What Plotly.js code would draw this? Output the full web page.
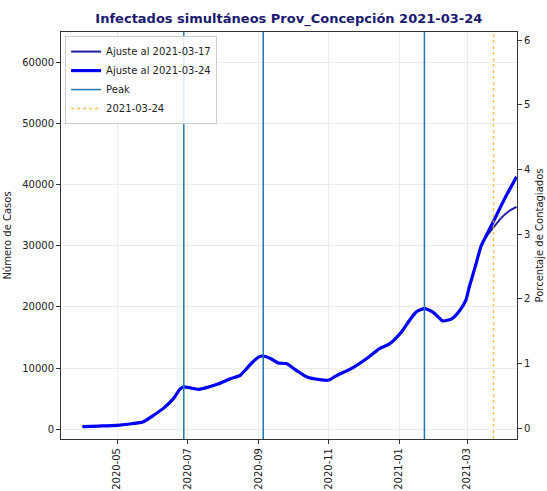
<!DOCTYPE html>
<html>
<head>
<meta charset="utf-8">
<script src="https://cdn.plot.ly/plotly-3.0.1.min.js"></script>
<style>html,body{margin:0;padding:0;background:#fff;}#chart{width:547px;height:491px;}</style>
</head>
<body>
<div id="chart"></div>
<script>
// Fit up to 2021-03-24 (thick line)
const fit24Dates = ['2020-04-01','2020-04-15','2020-05-01','2020-05-12','2020-05-24','2020-06-01','2020-06-10','2020-06-19','2020-06-25','2020-06-28','2020-07-03','2020-07-11','2020-07-27','2020-08-08','2020-08-16','2020-08-21','2020-08-26','2020-09-01','2020-09-05','2020-09-12','2020-09-18','2020-09-25','2020-10-04','2020-10-13','2020-10-24','2020-11-01','2020-11-07','2020-11-22','2020-12-06','2020-12-15','2020-12-24','2021-01-03','2021-01-10','2021-01-16','2021-01-23','2021-01-30','2021-02-04','2021-02-08','2021-02-16','2021-02-23','2021-02-28','2021-03-03','2021-03-09','2021-03-13','2021-03-17','2021-03-24','2021-04-02','2021-04-13'];
const fit24Values = [450,530,650,870,1240,2200,3380,5010,6650,6920,6800,6540,7360,8300,8830,9800,10840,11800,11980,11500,10840,10740,9600,8550,8120,8050,8700,10100,11870,13200,14000,15900,17800,19200,19740,19180,18370,17710,18100,19500,21100,23300,27140,29850,31400,34000,37440,41300];

// Fit up to 2021-03-17 (thin line)
const fit17Dates = ['2020-04-01','2020-04-15','2020-05-01','2020-05-12','2020-05-24','2020-06-01','2020-06-10','2020-06-19','2020-06-25','2020-06-28','2020-07-03','2020-07-11','2020-07-27','2020-08-08','2020-08-16','2020-08-21','2020-08-26','2020-09-01','2020-09-05','2020-09-12','2020-09-18','2020-09-25','2020-10-04','2020-10-13','2020-10-24','2020-11-01','2020-11-07','2020-11-22','2020-12-06','2020-12-15','2020-12-24','2021-01-03','2021-01-10','2021-01-16','2021-01-23','2021-01-30','2021-02-04','2021-02-08','2021-02-16','2021-02-23','2021-02-28','2021-03-03','2021-03-09','2021-03-13','2021-03-17','2021-03-24','2021-03-31','2021-04-06','2021-04-13'];
const fit17Values = [450,530,650,870,1240,2200,3380,5010,6650,6920,6800,6540,7360,8300,8830,9800,10840,11800,11980,11500,10840,10740,9600,8550,8120,8050,8700,10100,11870,13200,14000,15900,17800,19200,19740,19180,18370,17710,18100,19500,21100,23300,27140,29850,31300,33000,34600,35600,36350];

const peakDates = ['2020-06-28','2020-09-05','2021-01-23'];
const cutDate = ['2021-03-24'];

const leftTicks = [0,10000,20000,30000,40000,50000,60000];
const rightTicks = [0,1,2,3,4,5,6];

function vlines(dates){
  const x=[], y=[];
  dates.forEach((d,i)=>{ if(i>0){x.push(null);y.push(null);} x.push(d,d); y.push(0,1); });
  return {x,y};
}
const pk = vlines(peakDates);
const ct = vlines(cutDate);

const font = 'DejaVu Sans, sans-serif';

const traces = [
  {x: fit17Dates, y: fit17Values, type:'scatter', mode:'lines', name:'Ajuste al 2021-03-17',
   line:{color:'#1a1a9e', width:2, shape:'spline', smoothing:0.6}, yaxis:'y'},
  {x: fit24Dates, y: fit24Values, type:'scatter', mode:'lines', name:'Ajuste al 2021-03-24',
   line:{color:'#0000ff', width:3.2, shape:'spline', smoothing:0.6}, yaxis:'y'},
  {x: pk.x, y: pk.y, type:'scatter', mode:'lines', name:'Peak',
   line:{color:'#1f77b4', width:1.5}, yaxis:'y3', connectgaps:false},
  {x: ct.x, y: ct.y, type:'scatter', mode:'lines', name:'2021-03-24',
   line:{color:'rgba(255,165,0,0.7)', width:1.5, dash:'dot'}, yaxis:'y3'},
  {x: [], y: [], type:'scatter', mode:'lines', yaxis:'y2', showlegend:false, hoverinfo:'skip'}
];

const layout = {
  width:547, height:491,
  margin:{l:61, r:30, t:32, b:52, pad:0},
  paper_bgcolor:'#fff', plot_bgcolor:'#fff',
  font:{family:font, size:10, color:'#222'},
  title:{text:'<b>Infectados simultáneos Prov_Concepción 2021-03-24</b>', font:{family:font, size:13, color:'#191970'},
         x:0.528, xanchor:'center', y:0.963, yanchor:'middle'},
  showlegend:true,
  legend:{x:0.009, y:0.99, xanchor:'left', yanchor:'top', bgcolor:'rgba(255,255,255,0.85)',
          bordercolor:'#cccccc', borderwidth:1, font:{family:font, size:10, color:'#222'},
          tracegroupgap:0, itemwidth:30},
  xaxis:{type:'date', range:['2020-03-13 08:00','2021-04-13 10:00'],
         tick0:'2020-01-01', dtick:'M2', tickformat:'%Y-%m', tickangle:-90,
         showgrid:true, gridcolor:'#ececec', gridwidth:1,
         showline:true, linecolor:'#333', linewidth:1, mirror:true,
         ticks:'outside', ticklen:4, tickcolor:'#333', zeroline:false,
         tickfont:{family:font, size:10, color:'#222'}},
  yaxis:{range:[-1586,64950], tickvals:leftTicks, ticktext:leftTicks.map(String),
         showgrid:true, gridcolor:'#ececec', gridwidth:1, zeroline:false,
         showline:true, linecolor:'#333', linewidth:1,
         ticks:'outside', ticklen:4, tickcolor:'#333',
         title:{text:'Número de Casos', font:{family:font, size:10, color:'#222'}, standoff:8},
         tickfont:{family:font, size:10, color:'#222'}},
  yaxis2:{overlaying:'y', side:'right', range:[-0.165,6.125], tickvals:rightTicks, ticktext:rightTicks.map(String),
          showgrid:false, zeroline:false, showline:true, linecolor:'#333', linewidth:1,
          ticks:'outside', ticklen:4, tickcolor:'#333',
          title:{text:'Porcentaje de Contagiados', font:{family:font, size:10, color:'#222'}, standoff:6},
          tickfont:{family:font, size:10, color:'#222'}},
  yaxis3:{overlaying:'y', range:[0,1], visible:false, fixedrange:true}
};

Plotly.newPlot('chart', traces, layout, {displayModeBar:false, staticPlot:true});
</script>
</body>
</html>
